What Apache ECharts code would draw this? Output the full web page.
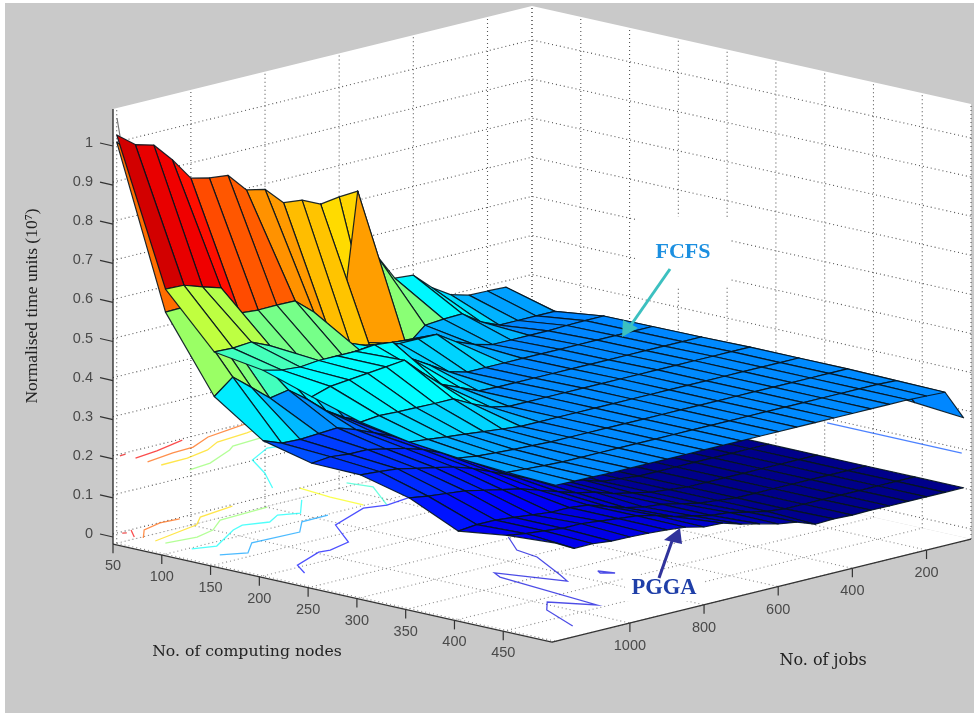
<!DOCTYPE html>
<html><head><meta charset="utf-8">
<style>html,body{margin:0;padding:0;background:#fff}#c{width:974px;height:713px;filter:blur(.45px)}</style>
<script src="https://cdn.jsdelivr.net/npm/echarts@6/dist/echarts.min.js"></script>
</head><body><div id="c"></div>
<script>
// ---------- axes ----------
const nodes=[50,100,150,200,250,300,350,400,450,500];
const jobs=[1200,1150,1100,1050,1000,950,900,850,800,750,700,650,600,550,500,450,400,350,300,250,200,150,100];
const nodeTicks=[50,100,150,200,250,300,350,400,450];
const jobTicks=[1000,800,600,400,200];
const nodeGrid=[50,100,150,200,250,300,350,400,450,500];
const jobGrid=[1200,1000,800,600,400,200];
const zTicks=[0,0.1,0.2,0.3,0.4,0.5,0.6,0.7,0.8,0.9,1];
const zLabels=['0','0.1','0.2','0.3','0.4','0.5','0.6','0.7','0.8','0.9','1'];
const nodeRange=[50,500], jobRange=[80,1210], zRange=[-0.026,1.087];
// ---------- FCFS surface, one list per node count, jobs 1200 -> 100 ----------
const fcfsN50 =[1.018,.982,.969,.92,.861,.85,.845,.796,.786,.74,.735,.713,.35,.723,.548,.477,.473,.43,.40,.387,.386,.384,.347];
const fcfsN100=[.652,.65,.634,.62,.544,.54,.541,.54,.50,.416,.39,.38,.373,.355,.396,.40,.402,.37,.35,.35,.35,.35,.30];
const fcfsN150=[.519,.517,.521,.50,.425,.425,.425,.424,.424,.424,.424,.424,.424,.394,.375,.363,.363,.363,.363,.365,.366,.366,.33];
const fcfsN200=[.50,.489,.485,.49,.49,.49,.495,.49,.436,.408,.38,.367,.367,.367,.367,.367,.367,.367,.367,.367,.367,.367,.33];
const fcfsN250=[.46,.475,.48,.485,.49,.495,.45,.41,.39,.37,.368,.368,.368,.368,.368,.368,.368,.368,.368,.368,.368,.368,.33];
const fcfsN300=[.423,.428,.426,.425,.424,.424,.40,.38,.37,.37,.37,.37,.37,.37,.37,.37,.37,.37,.37,.37,.37,.37,.32];
const fcfsN350=[.40,.395,.39,.385,.38,.375,.37,.37,.37,.37,.37,.37,.37,.37,.37,.37,.37,.37,.37,.37,.37,.37,.32];
const fcfsN400=[.387,.38,.377,.374,.372,.37,.37,.37,.37,.37,.37,.37,.37,.37,.37,.37,.37,.37,.37,.37,.37,.37,.31];
const fcfsN450=[.378,.375,.372,.37,.37,.37,.37,.37,.37,.37,.37,.37,.37,.37,.37,.37,.37,.37,.37,.37,.37,.368,.30];
const fcfsN500=[.373,.372,.371,.37,.37,.37,.37,.37,.37,.37,.37,.37,.37,.37,.37,.37,.37,.37,.37,.37,.368,.366,.289];
// ---------- PGGA surface ----------
const pggaN50 =[1.0,.95,.9,.85,.8,.76,.72,.68,.64,.6,.56,.713,.72,.723,.42,.38,.35,.32,.28,.25,.2,.15,.11];
const pggaN100=[.593,.594,.56,.52,.48,.45,.42,.38,.35,.32,.30,.27,.25,.22,.2,.18,.16,.15,.14,.13,.12,.115,.11];
const pggaN150=[.405,.443,.405,.366,.375,.34,.30,.27,.25,.23,.21,.19,.17,.15,.14,.13,.125,.12,.115,.11,.11,.11,.11];
const pggaN200=[.32,.302,.30,.303,.306,.29,.27,.25,.225,.20,.18,.165,.15,.135,.12,.11,.11,.11,.11,.11,.11,.11,.11];
const pggaN250=[.29,.295,.29,.29,.28,.27,.255,.235,.21,.19,.17,.155,.145,.13,.115,.11,.11,.11,.11,.11,.11,.11,.11];
const pggaN300=[.288,.285,.28,.27,.26,.25,.235,.215,.195,.175,.16,.145,.135,.12,.115,.11,.11,.11,.11,.11,.11,.11,.11];
const pggaN350=[.257,.25,.245,.24,.23,.22,.21,.195,.18,.165,.155,.14,.13,.12,.115,.11,.11,.11,.11,.11,.11,.11,.11];
const pggaN400=[.20,.205,.205,.2,.195,.19,.19,.185,.17,.155,.145,.14,.13,.12,.115,.11,.11,.11,.11,.11,.11,.11,.11];
const pggaN450=[.217,.21,.205,.2,.2,.195,.19,.185,.175,.16,.15,.14,.135,.125,.115,.11,.11,.11,.11,.11,.11,.11,.11];
const pggaN500=[.225,.2,.2,.195,.194,.192,.189,.184,.173,.171,.157,.146,.134,.127,.11,.112,.11,.111,.11,.11,.11,.11,.11];
// ---------- contour lines: [nodes, jobs] ----------
const contourF1=[[54,1202],[53,1184]];
const contourF2=[[67,1194],[63,1126],[53,1031]];
const contourF3=[[82,1201],[76,1117],[74,1057],[60,980],[54,896],[51,848]];
const contourF4=[[96,1201],[95,1128],[88,1055],[76,997],[72,907],[68,862]];
const contourF5=[[122,1193],[118,1127],[100,1027],[93,1000],[90,910]];
const contourF6=[[120,925],[116,968],[134,1055],[169,1114],[206,1190]];
const contourF7=[[362,105],[500,105]];
const contourP1=[[53,1193],[55,1186]];
const contourP2=[[51,1164],[68,1200]];
const contourP3=[[75,1194],[58,1147],[51,1086],[53,1038]];
const contourP4=[[88,1196],[75,1050],[60,1001],[53,896]];
const contourP5=[[98,1195],[102,1120],[95,1059],[77,992],[74,857]];
const contourP6=[[125,1195],[132,1146],[106,1033],[100,993],[108,940],[97,890],[105,849],[77,772]];
const contourP7=[[153,1193],[164,1146],[144,1083],[146,959],[125,898],[124,825]];
const contourP8=[[50,706],[86,719],[121,722]];
const contourP9=[[64,617],[87,606],[134,692]];
const contourP10=[[238,1188],[217,1152],[200,1050],[202,1024],[194,954],[150,873],[128,740],[134,692],[129,616]];
const contourP11=[[269,720],[302,784],[328,798],[380,872],[397,898],[340,944],[352,961],[465,997],[432,1044],[449,1090],[498,1149]];
const contourP12=[[391,800],[405,790],[397,809],[391,800]];
const contourF=[[contourF1,.9],[contourF2,.88],[contourF3,.78],[contourF4,.66],[contourF5,.52],[contourF6,.38],[contourF7,.2]];
const contourP=[[contourP1,.9],[contourP2,.88],[contourP3,.78],[contourP4,.66],[contourP5,.52],[contourP6,.38],[contourP7,.28],[contourP8,.62],[contourP9,.42],[contourP10,.13],[contourP11,.09],[contourP12,.09]];
const contourPlaneF=0.2, contourPlaneP=0;
// colour of faces that take their colour from a different corner: [node index, job index of far edge, colour value]
const colourOverF=[[0,13,.78],[0,14,.57]];
const colourOverP=[[0,1,.83]];
// colour scale: value -> position on the jet map
const colourStopsZ=[.1,.2,.29,.37,.44,.5,.52,.54,.6,.65,.72,.74,.8,.85,.92,1.02];
const colourStopsT=[0,.1,.17,.26,.355,.375,.44,.49,.53,.56,.66,.69,.735,.79,.86,.92];
// ---------- scale ----------
const FONT='"Liberation Sans",Arial,sans-serif', SERIF='"Liberation Serif","Times New Roman",serif', WIDE='"DejaVu Serif",serif';
function project(n,j,z){return [113+(n-50)*.9756+(1210-j)*.3708, 534-391*z+(n-50)*.2178-(1210-j)*.0912];}
function jet(t){t=Math.max(0,Math.min(1,t));const c=v=>Math.round(255*Math.max(0,Math.min(1,v)));
 return 'rgb('+c(Math.min(4*t-1.5,-4*t+4.5))+','+c(Math.min(4*t-.5,-4*t+3.5))+','+c(Math.min(4*t+.5,-4*t+2.5))+')';}
function colourOf(z){const Z=colourStopsZ,T=colourStopsT;
 if(z<=Z[0])return jet(T[0]);
 for(let i=1;i<Z.length;i++)if(z<=Z[i])return jet(T[i-1]+(T[i]-T[i-1])*(z-Z[i-1])/(Z[i]-Z[i-1]));
 return jet(T[T.length-1]);}
const pts=(api,a)=>a.map(p=>api.coord(project(p[0],p[1],p[2])));
function series(z,items,draw){return {type:'custom',coordinateSystem:'cartesian2d',z,silent:true,clip:false,animation:false,
 data:items.map((_,i)=>[i,0]),renderItem:(p,api)=>draw(items[p.dataIndex],api)};}
// ---------- build ----------
const [n0,n1]=nodeRange,[j0,j1]=jobRange,[z0,z1]=zRange;
const walls=[[[n0,j1,z0],[n0,j0,z0],[n0,j0,z1],[n0,j1,z1]],[[n0,j0,z0],[n1,j0,z0],[n1,j0,z1],[n0,j0,z1]],[[n0,j1,z0],[n1,j1,z0],[n1,j0,z0],[n0,j0,z0]]];
const wallGrid=[];
zTicks.forEach(z=>wallGrid.push([[n0,j1,z],[n0,j0,z],[n1,j0,z]]));
nodeGrid.forEach(n=>wallGrid.push([[n,j0,z0],[n,j0,z1]]));
jobGrid.forEach(j=>wallGrid.push([[n0,j,z0],[n0,j,z1]]));
wallGrid.push([[n0,j0,z0],[n0,j0,z1]]);
const floorGrid=[];
nodeGrid.forEach(n=>floorGrid.push([[n,j1,z0],[n,j0,z0]]));
jobGrid.forEach(j=>floorGrid.push([[n0,j,z0],[n1,j,z0]]));
function faces(rows,over){const out=[];
 for(let i=0;i<nodes.length-1;i++)for(let k=jobs.length-1;k>0;k--){
  const q=[[nodes[i],jobs[k],rows[i][k]],[nodes[i+1],jobs[k],rows[i+1][k]],[nodes[i+1],jobs[k-1],rows[i+1][k-1]],[nodes[i],jobs[k-1],rows[i][k-1]]];
  let c=Math.max(q[0][2],q[1][2],q[2][2],q[3][2]);
  over.forEach(o=>{if(o[0]===i&&o[1]===k)c=o[2];});
  out.push({q,c});}
 return out;}
const fcfsRows=[fcfsN50,fcfsN100,fcfsN150,fcfsN200,fcfsN250,fcfsN300,fcfsN350,fcfsN400,fcfsN450,fcfsN500];
const pggaRows=[pggaN50,pggaN100,pggaN150,pggaN200,pggaN250,pggaN300,pggaN350,pggaN400,pggaN450,pggaN500];
const drawFace=(f,api)=>({type:'polygon',shape:{points:pts(api,f.q)},style:{fill:colourOf(f.c),stroke:'rgba(5,20,30,.9)',lineWidth:1.2,lineJoin:'round'}});
const drawWall=(w,api)=>({type:'polygon',shape:{points:pts(api,w)},style:{fill:'#fff'}});
const drawDots=(col,dash)=>(l,api)=>({type:'polyline',shape:{points:pts(api,l)},style:{stroke:col,fill:null,lineWidth:1.1,lineDash:dash}});
const drawContour=plane=>(c,api)=>({type:'polyline',shape:{points:pts(api,c[0].map(p=>[p[0],p[1],plane]))},style:{stroke:jet(c[1]),fill:null,lineWidth:1.3,opacity:.7}});
const axisLines=[[[n0,j1,z0],[n1,j1,z0]],[[n1,j1,z0],[n1,j0,z0]],[[n0,j1,z0],[n0,j1,z1]]];
const drawAxis=(l,api)=>({type:'polyline',shape:{points:pts(api,l)},style:{stroke:'#333',fill:null,lineWidth:1.4}});
const drawLabel=(it,api)=>{const p=api.coord(project(it.p[0],it.p[1],it.p[2]));
 return {type:'group',children:[
  {type:'line',shape:{x1:p[0]+it.s0[0],y1:p[1]+it.s0[1],x2:p[0]+it.t[0],y2:p[1]+it.t[1]},style:{stroke:'#333',lineWidth:1.2}},
  {type:'text',x:p[0]+it.o[0],y:p[1]+it.o[1],style:{text:it.s,font:'14.5px '+FONT,fill:'#4a4a4a',align:it.a,verticalAlign:'middle'}}]};};
const labels=[];
nodeTicks.forEach(n=>labels.push({p:[n,j1,z0],s0:[0,0],t:[0,9],o:[0,22],s:String(n),a:'center'}));
jobTicks.forEach(j=>labels.push({p:[n1,j,z0],s0:[0,0],t:[0,9],o:[0,23],s:String(j),a:'center'}));
zTicks.forEach((z,i)=>labels.push({p:[n0,j1,z],s0:[0,3],t:[-13,0],o:[-20,0],s:zLabels[i],a:'right'}));
const option={
 animation:false,backgroundColor:'#fff',
 grid:{left:0,right:0,top:0,bottom:0},
 xAxis:{type:'value',min:0,max:974,show:false},
 yAxis:{type:'value',min:0,max:713,inverse:true,show:false},
 graphic:[
  {type:'rect',z:0,shape:{x:5,y:3,width:969,height:710},style:{fill:'#c9c9c9'}},
  {type:'rect',z:3,shape:{x:637,y:217,width:93,height:70},style:{fill:'#fff'}},
  {type:'rect',z:3,shape:{x:625,y:575,width:78,height:26},style:{fill:'#fff'}},
  {type:'text',z:20,x:32,y:306,rotation:Math.PI/2,style:{text:'Normalised time units (10⁷)',font:'17.5px '+SERIF,fill:'#222',align:'center',verticalAlign:'middle'}},
  {type:'text',z:20,x:247,y:652,style:{text:'No. of computing nodes',font:'15.7px '+WIDE,fill:'#222',align:'center',verticalAlign:'middle'}},
  {type:'text',z:20,x:823,y:661,style:{text:'No. of jobs',font:'16px '+WIDE,fill:'#222',align:'center',verticalAlign:'middle'}},
  {type:'text',z:20,x:683,y:252,style:{text:'FCFS',font:'bold 22px '+SERIF,fill:'#1b8fe0',align:'center',verticalAlign:'middle'}},
  {type:'text',z:20,x:664,y:588,style:{text:'PGGA',font:'bold 22.5px '+SERIF,fill:'#1f3fa8',align:'center',verticalAlign:'middle'}},
  {type:'line',z:20,shape:{x1:670,y1:269,x2:631,y2:325},style:{stroke:'#3cc0c0',lineWidth:3}},
  {type:'polygon',z:20,shape:{points:[[623,320],[638,328],[622,337]]},style:{fill:'#3cc0c0'}},
  {type:'line',z:20,shape:{x1:659,y1:578,x2:672,y2:541},style:{stroke:'#30339c',lineWidth:3}},
  {type:'polygon',z:20,shape:{points:[[664,540],[680,528],[682,544]]},style:{fill:'#30339c'}},
  {type:'line',z:20,shape:{x1:117,y1:118,x2:120,y2:136},style:{stroke:'#777',lineWidth:1.2}}
 ],
 series:[
  series(1,walls,drawWall),
  series(2,wallGrid,drawDots('#555',[1,3])),
  series(2,floorGrid,drawDots('#888',[1,3])),
  series(4,contourF,drawContour(contourPlaneF)),
  series(4,contourP,drawContour(contourPlaneP)),
  series(5,axisLines,drawAxis),
  series(5,labels,drawLabel),
  series(6,faces(pggaRows,colourOverP),drawFace),
  series(7,faces(fcfsRows,colourOverF),drawFace)
 ]};
echarts.init(document.getElementById('c')).setOption(option);
</script></body></html>
